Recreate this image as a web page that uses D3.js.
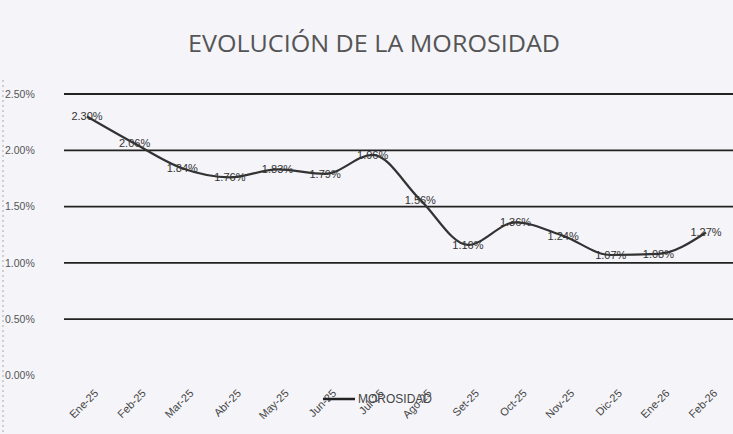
<!DOCTYPE html>
<html><head><meta charset="utf-8">
<script src="https://cdn.jsdelivr.net/npm/d3@7/dist/d3.min.js"></script>
<style>html,body{margin:0;padding:0;background:#f4f4f9;}svg{display:block;}</style>
</head><body>
<script>
const title = "EVOLUCIÓN DE LA MOROSIDAD";
const categories = ["Ene-25","Feb-25","Mar-25","Abr-25","May-25","Jun-25","Jul-25","Ago-25","Set-25","Oct-25","Nov-25","Dic-25","Ene-26","Feb-26"];
const morosidad = [2.30,2.06,1.84,1.76,1.83,1.79,1.96,1.56,1.16,1.36,1.24,1.07,1.08,1.27];
const yTicks = [0,0.5,1.0,1.5,2.0,2.5];
const seriesName = "MOROSIDAD";

const W=733,H=434;
const svg=d3.select("body").append("svg").attr("width",W).attr("height",H);
svg.append("rect").attr("width",W).attr("height",H).attr("fill","#f4f4f9");

const x=d3.scalePoint().domain(categories).range([87,706]);
const y=d3.scaleLinear().domain([0,2.5]).range([375.5,94]);

// scan edge dotted line
svg.append("line").attr("x1",3).attr("x2",3).attr("y1",80).attr("y2",434)
  .attr("stroke","#aaa").attr("stroke-dasharray","2,3").attr("stroke-width",1);

svg.append("text").attr("x",374).attr("y",52).attr("text-anchor","middle")
  .attr("font-family","'Open Sans', sans-serif").attr("font-size",23)
  .attr("fill","#555").attr("textLength",372).attr("lengthAdjust","spacingAndGlyphs").text(title);

// gridlines
svg.append("g").selectAll("line").data(yTicks.filter(d=>d>0)).join("line")
  .attr("x1",64).attr("x2",W).attr("y1",d=>y(d)).attr("y2",d=>y(d))
  .attr("stroke","#222").attr("stroke-width",1.8);

// y axis labels
const yAxis=d3.axisLeft(y).tickValues(yTicks).tickFormat(d=>d3.format(".2f")(d)+"%").tickSize(0);
const gy=svg.append("g").attr("transform","translate(5,0)").call(yAxis);
gy.select(".domain").remove();
gy.selectAll("text").attr("text-anchor","start").attr("x",0).attr("dy","0.32em")
  .attr("font-family","'Liberation Sans', sans-serif").attr("font-size",10.5).attr("fill","#555");

// x axis labels
const xAxis=d3.axisBottom(x).tickSize(0);
const gx=svg.append("g").call(xAxis);
gx.select(".domain").remove();
gx.selectAll(".tick").attr("transform",null);
gx.selectAll("text").attr("text-anchor","end").attr("dy",0).attr("y",0).attr("x",null)
  .attr("transform",d=>`translate(${x(d)+12},394) rotate(-45)`)
  .attr("font-family","'Liberation Sans', sans-serif").attr("font-size",11).attr("fill","#444");

// line
const line=d3.line().x((d,i)=>x(categories[i])).y(d=>y(d)).curve(d3.curveMonotoneX);
svg.append("path").datum(morosidad).attr("d",line).attr("fill","none")
  .attr("stroke","#333").attr("stroke-width",2.2);

// data labels
svg.append("g").selectAll("text").data(morosidad).join("text")
  .attr("x",(d,i)=>x(categories[i])).attr("y",d=>y(d)).attr("dy","0.35em")
  .attr("text-anchor","middle").attr("font-family","'Liberation Sans', sans-serif")
  .attr("font-size",11).attr("fill","#333").text(d=>d3.format(".2f")(d)+"%");

// legend
svg.append("line").attr("x1",323).attr("x2",355).attr("y1",399).attr("y2",399)
  .attr("stroke","#222").attr("stroke-width",2.5);
svg.append("text").attr("x",358).attr("y",399).attr("dy","0.35em")
  .attr("font-family","'Liberation Sans', sans-serif").attr("font-size",12).attr("fill","#444").text(seriesName);
</script>
</body></html>
